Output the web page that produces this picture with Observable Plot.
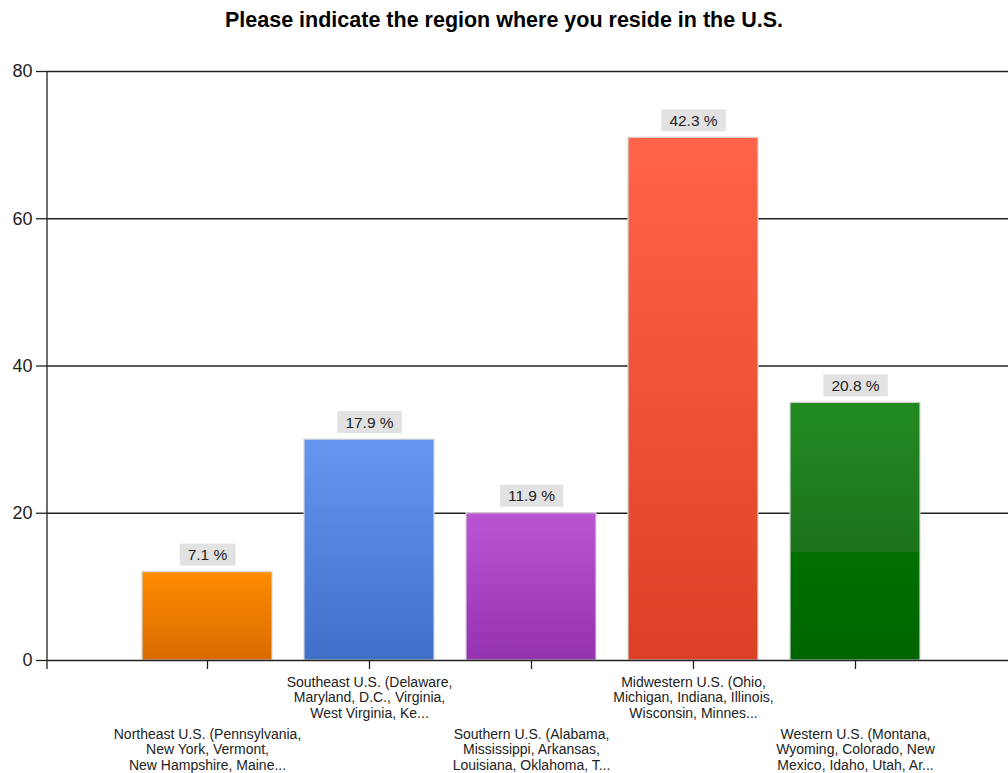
<!DOCTYPE html>
<html>
<head>
<meta charset="utf-8">
<script src="https://cdn.jsdelivr.net/npm/d3@7"></script>
<script src="https://cdn.jsdelivr.net/npm/@observablehq/plot@0.6"></script>
<style>
  body { margin: 0; background: #fff; font-family: "Liberation Sans", Arial, sans-serif; }
  #title { width: 1008px; height: 40px; line-height: 40px; text-align: center;
           font-weight: bold; font-size: 21.5px; color: #000; }
  #chart svg { display: block; overflow: visible; }
</style>
</head>
<body>
<div id="title">Please indicate the region where you reside in the U.S.</div>
<div id="chart"></div>
<script>
// Survey answers: region of residence (respondent counts)
const regions = ["Northeast", "Southeast", "Southern", "Midwestern", "Western"];
const regionLabels = [
  "Northeast U.S. (Pennsylvania,\nNew York, Vermont,\nNew Hampshire, Maine...",
  "Southeast U.S. (Delaware,\nMaryland, D.C., Virginia,\nWest Virginia, Ke...",
  "Southern U.S. (Alabama,\nMississippi, Arkansas,\nLouisiana, Oklahoma, T...",
  "Midwestern U.S. (Ohio,\nMichigan, Indiana, Illinois,\nWisconsin, Minnes...",
  "Western U.S. (Montana,\nWyoming, Colorado, New\nMexico, Idaho, Utah, Ar..."
];
const counts = [12, 30, 20, 71, 35];
const yTicks = [0, 20, 40, 60, 80];

// bar gradients (top colour, bottom colour)
const palette = {
  Northeast:  [["#ff8c00", 0], ["#da6a00", 1]],
  Southeast:  [["#6597ee", 0], ["#3f6fc6", 1]],
  Southern:   [["#bb55d4", 0], ["#9532b0", 1]],
  Midwestern: [["#ff6448", 0], ["#dc4127", 1]],
  Western:    [["#228b22", 0], ["#1b731b", 0.58], ["#007000", 0.58], ["#006500", 1]]
};

const total = d3.sum(counts);
const data = regions.map((r, i) => ({
  region: r,
  label: regionLabels[i],
  count: counts[i],
  pct: (counts[i] / total * 100).toFixed(1) + " %",
  fill: `url(#grad-${r})`,
  row: i % 2
}));

// gradient definitions plus the left axis line (runs a tick length below zero)
function decorations(index, scales, values, dimensions) {
  const g = d3.create("svg:g");
  const defs = g.append("defs");
  for (const r of regions) {
    const lg = defs.append("linearGradient")
      .attr("id", `grad-${r}`).attr("x1", 0).attr("y1", 0).attr("x2", 0).attr("y2", 1);
    for (const [c, o] of palette[r]) lg.append("stop").attr("offset", o).attr("stop-color", c);
  }
  const x0 = dimensions.marginLeft;
  g.append("line")
    .attr("x1", x0).attr("x2", x0)
    .attr("y1", scales.y(80)).attr("y2", scales.y(0) + 9)
    .attr("stroke", "#222").attr("stroke-width", 1.3);
  return g.node();
}

const chart = Plot.plot({
  width: 1008,
  height: 733,
  marginTop: 31,
  marginLeft: 47,
  marginRight: 0,
  marginBottom: 113,
  style: { fontFamily: "'Liberation Sans', Arial, sans-serif", color: "#222", background: "#fff" },
  x: { type: "band", domain: regions, range: [125.5, 936], paddingInner: 0.2, paddingOuter: 0.1 },
  y: { domain: [0, 80] },
  color: { type: "identity" },
  marks: [
    decorations,
    Plot.gridY(yTicks.filter(d => d > 0), { stroke: "#222", strokeOpacity: 1, strokeWidth: 1.3 }),
    Plot.barY(data, { x: "region", y: "count", fill: "fill", stroke: "#d6d6d6", strokeWidth: 1.2 }),
    Plot.ruleY([0], { stroke: "#222", strokeWidth: 1.3 }),
    Plot.axisY({ ticks: yTicks, tickSize: 11, tickPadding: 4, fontSize: 18, label: null,
                 stroke: "#222", strokeWidth: 1.3 }),
    Plot.axisX({ tickSize: 9, tickFormat: () => "", label: null, stroke: "#222", strokeWidth: 1.3 }),
    Plot.text(data.filter(d => d.row === 1), {
      x: "region", text: "label", frameAnchor: "bottom", lineAnchor: "middle",
      dy: 37, lineHeight: 1.11, fontSize: 14, fill: "#222"
    }),
    Plot.text(data.filter(d => d.row === 0), {
      x: "region", text: "label", frameAnchor: "bottom", lineAnchor: "middle",
      dy: 89, lineHeight: 1.11, fontSize: 14, fill: "#222"
    }),
    Plot.text(data, {
      x: "region", y: "count", text: "pct", dy: -17, lineAnchor: "middle",
      fontSize: 15.5, fill: "#222"
    })
  ]
});

document.getElementById("chart").append(chart);

// grey label boxes behind the percentage texts
d3.select(chart).selectAll("text").each(function () {
  if (!/ %$/.test(this.textContent)) return;
  const b = this.getBBox();
  const h = 22, w = b.width + 16;
  const rect = document.createElementNS("http://www.w3.org/2000/svg", "rect");
  rect.setAttribute("x", b.x + b.width / 2 - w / 2);
  rect.setAttribute("y", b.y + b.height / 2 - h / 2);
  rect.setAttribute("width", w);
  rect.setAttribute("height", h);
  rect.setAttribute("fill", "#e2e2e2");
  const t = this.getAttribute("transform");
  if (t) rect.setAttribute("transform", t);
  this.parentNode.insertBefore(rect, this);
});
</script>
</body>
</html>
